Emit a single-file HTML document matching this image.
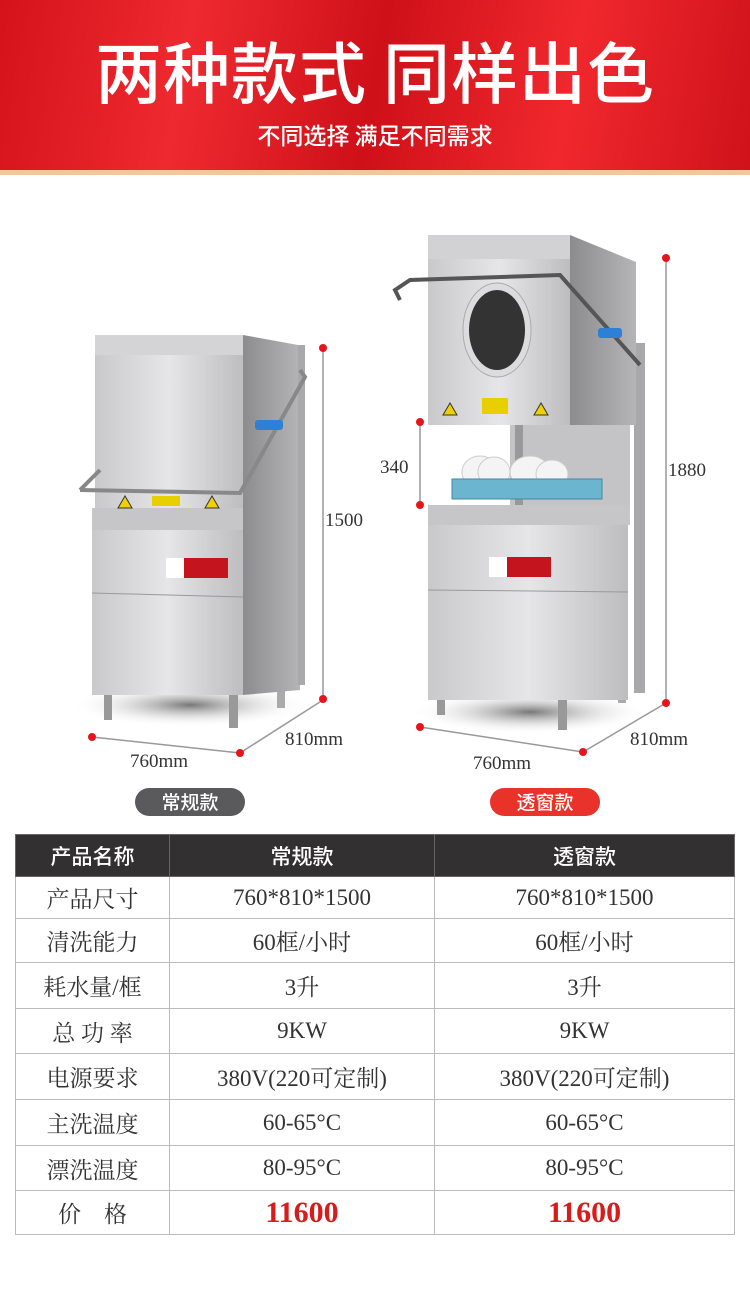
<!DOCTYPE html>
<html><head><meta charset="utf-8"><style>
body{margin:0;width:750px;height:1295px;background:#fff;position:relative;overflow:hidden;font-family:"Liberation Serif","Noto Serif CJK SC",serif}
.hd{position:absolute;left:0;top:0;width:750px;height:170px;background:linear-gradient(100deg,#d5121a 0%,#ee2a30 25%,#cf1018 50%,#f0282e 75%,#d0121a 100%)}
.gold{position:absolute;left:0;top:170px;width:750px;height:5px;background:#f3c79a}
.t1{position:absolute;left:0;width:750px;top:21px;text-align:center;color:#fff;font:500 67px "Noto Sans CJK SC",sans-serif;letter-spacing:1px}
.t2{position:absolute;left:0;width:750px;top:117px;text-align:center;color:#fff;font:500 23px "Noto Sans CJK SC",sans-serif}
svg{position:absolute;left:0;top:0}
.pill{position:absolute;height:28px;width:110px;border-radius:14px;color:#fff;text-align:center;line-height:28px;font:500 19px "Noto Sans CJK SC",sans-serif}
table{position:absolute;left:15px;top:834px;width:720px;border-collapse:collapse}
td{border:1px solid #bbb;text-align:center;font-size:23px;color:#333;padding:0}
tr.h td{background:#333031;color:#fff;font:500 21px "Noto Sans CJK SC",sans-serif;height:41px;border-color:#666}
.red{color:#d81c1c;font-weight:bold;font-size:30px}
</style></head><body>
<div class="hd"></div><div class="gold"></div>
<div class="t1">两种款式 同样出色</div>
<div class="t2">不同选择 满足不同需求</div>
<svg width="750" height="830" viewBox="0 0 750 830">
<defs>
<linearGradient id="f" x1="0" x2="1"><stop offset="0" stop-color="#c9c9cb"/><stop offset=".5" stop-color="#e6e6e8"/><stop offset="1" stop-color="#bdbdbf"/></linearGradient>
<linearGradient id="s" x1="0" x2="1"><stop offset="0" stop-color="#8c8c8e"/><stop offset="1" stop-color="#b5b5b7"/></linearGradient>
<radialGradient id="sh"><stop offset="0" stop-color="#777"/><stop offset="1" stop-color="#fff" stop-opacity="0"/></radialGradient>
</defs>
<g fill="none" stroke="#999" stroke-width="1.5">
<line x1="323" y1="348" x2="323" y2="697"/><line x1="92" y1="737" x2="240" y2="753"/><line x1="240" y1="753" x2="323" y2="700"/>
<line x1="666" y1="258" x2="666" y2="703"/><line x1="420" y1="422" x2="420" y2="505"/><line x1="420" y1="727" x2="583" y2="752"/><line x1="583" y1="752" x2="666" y2="703"/>
</g>
<g fill="#e8141c">
<circle cx="323" cy="348" r="4"/><circle cx="323" cy="699" r="4"/><circle cx="92" cy="737" r="4"/><circle cx="240" cy="753" r="4"/>
<circle cx="666" cy="258" r="4"/><circle cx="666" cy="703" r="4"/><circle cx="420" cy="422" r="4"/><circle cx="420" cy="505" r="4"/><circle cx="420" cy="727" r="4"/><circle cx="583" cy="752" r="4"/>
</g>
<ellipse cx="190" cy="705" rx="120" ry="22" fill="url(#sh)"/>
<rect x="104" y="688" width="8" height="32" fill="#999"/><rect x="229" y="690" width="9" height="38" fill="#999"/><rect x="277" y="680" width="8" height="28" fill="#aaa"/>
<polygon points="243,335 298,345 300,690 243,695" fill="url(#s)"/>
<rect x="298" y="345" width="7" height="340" fill="#a9a9ab"/>
<rect x="95" y="335" width="148" height="173" fill="url(#f)"/>
<rect x="95" y="335" width="148" height="20" fill="#d4d4d6"/>
<rect x="92" y="508" width="151" height="22" fill="#c6c6c8"/>
<rect x="92" y="530" width="151" height="165" fill="url(#f)"/>
<line x1="92" y1="593" x2="243" y2="597" stroke="#999"/>
<rect x="166" y="558" width="62" height="20" fill="#c4151f"/><rect x="166" y="558" width="18" height="20" fill="#fff"/>
<polygon points="118,508 125,496 132,508" fill="#f0d000" stroke="#333"/><polygon points="205,508 212,496 219,508" fill="#f0d000" stroke="#333"/><rect x="152" y="496" width="28" height="10" fill="#e8d000"/>
<path d="M80 490 L100 470 M80 490 L240 493 L305 377 L300 370" stroke="#888" stroke-width="4" fill="none"/>
<rect x="255" y="420" width="28" height="10" rx="3" fill="#2e7fd6"/>
<ellipse cx="530" cy="712" rx="120" ry="22" fill="url(#sh)"/>
<rect x="437" y="690" width="8" height="25" fill="#999"/><rect x="558" y="695" width="9" height="35" fill="#999"/><rect x="618" y="678" width="8" height="25" fill="#aaa"/>
<rect x="634" y="343" width="11" height="350" fill="#a9a9ab"/>
<rect x="510" y="425" width="120" height="85" fill="#c4c4c6"/><rect x="515" y="425" width="8" height="80" fill="#999"/>
<polygon points="570,235 636,262 636,425 570,425" fill="url(#s)"/>
<rect x="428" y="235" width="142" height="190" fill="url(#f)"/>
<rect x="428" y="235" width="142" height="24" fill="#d2d2d4"/>
<ellipse cx="497" cy="330" rx="34" ry="47" fill="#dcdcde" stroke="#aaa"/>
<ellipse cx="497" cy="330" rx="28" ry="40" fill="#333"/>
<polygon points="443,415 450,403 457,415" fill="#f0d000" stroke="#333"/><polygon points="534,415 541,403 548,415" fill="#f0d000" stroke="#333"/><rect x="482" y="398" width="26" height="16" fill="#e8d000"/>
<path d="M400 300 L395 290 L410 280 L560 275 L640 365" stroke="#555" stroke-width="4" fill="none"/>
<rect x="598" y="328" width="24" height="10" rx="3" fill="#2e7fd6"/>
<g fill="#f4f4f4" stroke="#ccc"><ellipse cx="480" cy="472" rx="18" ry="16"/><ellipse cx="494" cy="472" rx="16" ry="15"/><ellipse cx="530" cy="472" rx="20" ry="16"/><ellipse cx="552" cy="474" rx="16" ry="14"/></g>
<rect x="452" y="479" width="150" height="20" fill="#6cb5cf" stroke="#3d8aa5"/>
<rect x="428" y="505" width="202" height="20" fill="#c6c6c8"/>
<rect x="428" y="525" width="200" height="175" fill="url(#f)"/>
<line x1="428" y1="590" x2="628" y2="592" stroke="#999"/>
<rect x="489" y="557" width="62" height="20" fill="#c4151f"/><rect x="489" y="557" width="18" height="20" fill="#fff"/>
<g font-family="Liberation Serif,serif" font-size="19" fill="#333">
<text x="325" y="526">1500</text><text x="285" y="745">810mm</text><text x="130" y="767">760mm</text>
<text x="380" y="473">340</text><text x="668" y="476">1880</text><text x="630" y="745">810mm</text><text x="473" y="769">760mm</text>
</g>
</svg>
<div class="pill" style="left:135px;top:788px;background:#5a5a5c">常规款</div>
<div class="pill" style="left:490px;top:788px;background:#e8322a">透窗款</div>
<table>
<colgroup><col style="width:154px"><col style="width:265px"><col></colgroup>
<tr class="h"><td>产品名称</td><td>常规款</td><td>透窗款</td></tr>
<tr style="height:42px"><td>产品尺寸</td><td>760*810*1500</td><td>760*810*1500</td></tr>
<tr style="height:44px"><td>清洗能力</td><td>60框/小时</td><td>60框/小时</td></tr>
<tr style="height:46px"><td>耗水量/框</td><td>3升</td><td>3升</td></tr>
<tr style="height:45px"><td>总 功 率</td><td>9KW</td><td>9KW</td></tr>
<tr style="height:46px"><td>电源要求</td><td>380V(220可定制)</td><td>380V(220可定制)</td></tr>
<tr style="height:46px"><td>主洗温度</td><td>60-65°C</td><td>60-65°C</td></tr>
<tr style="height:45px"><td>漂洗温度</td><td>80-95°C</td><td>80-95°C</td></tr>
<tr style="height:44px"><td>价　格</td><td class="red">11600</td><td class="red">11600</td></tr>
</table>
</body></html>
